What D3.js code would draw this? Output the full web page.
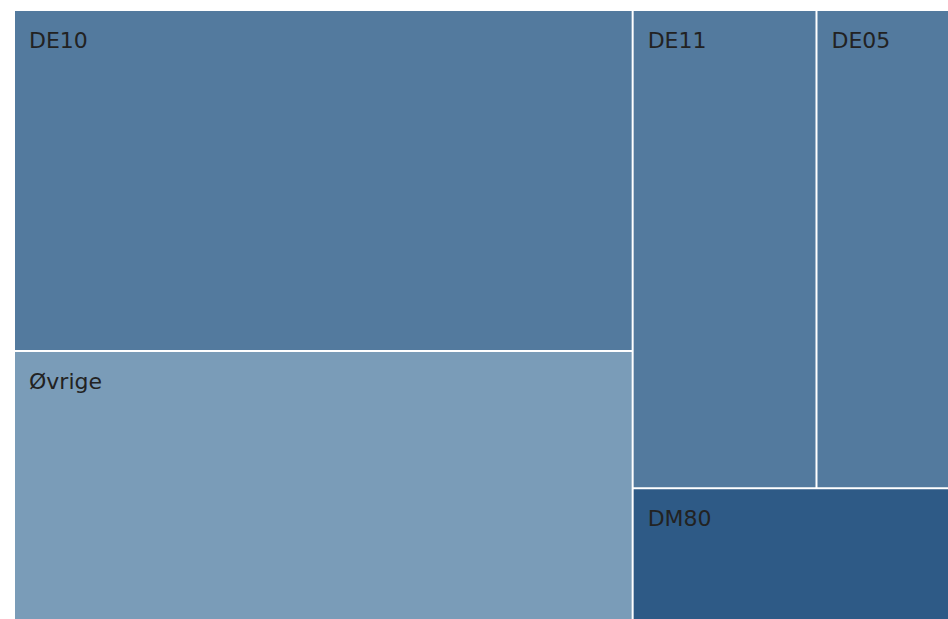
<!DOCTYPE html>
<html>
<head>
<meta charset="utf-8">
<script src="https://cdn.jsdelivr.net/npm/d3@7"></script>
<style>
  html, body { margin: 0; padding: 0; background: #ffffff; }
  svg { display: block; }
</style>
</head>
<body>
<svg id="chart" width="948" height="619"></svg>
<script>
// Share of total (%) per code
const categories = ["DE10", "Øvrige", "DE11", "DE05", "DM80"];
const values     = [36.95, 29.15, 15.4, 11.1, 7.3];
// Which block each tile belongs to in the nested layout
const parents    = ["left", "left", "rightTop", "rightTop", "right"];
// Block structure: id -> parent
const blockIds     = ["root", "left", "right", "rightTop"];
const blockParents = ["", "root", "root", "right"];
const colors     = ["#537a9e", "#7a9cb8", "#537a9e", "#537a9e", "#2e5a86"];

const width = 948, height = 619;
const margin = { top: 11, left: 15 };

const rows = blockIds.map((id, i) => ({ id, parent: blockParents[i] || null }))
  .concat(categories.map((c, i) => ({ id: c, parent: parents[i], value: values[i], color: colors[i] })));

const root = d3.stratify().id(d => d.id).parentId(d => d.parent)(rows)
  .sum(d => d.value || 0);

d3.treemap()
  .tile(d3.treemapSliceDice)
  .size([width - margin.left, height - margin.top])
  .paddingInner(2)
  .round(false)(root);

const svg = d3.select("#chart");
const g = svg.append("g").attr("transform", `translate(${margin.left},${margin.top})`);

const leaf = g.selectAll("g.leaf")
  .data(root.leaves())
  .join("g")
  .attr("class", "leaf")
  .attr("transform", d => `translate(${d.x0},${d.y0})`);

leaf.append("rect")
  .attr("width", d => d.x1 - d.x0)
  .attr("height", d => d.y1 - d.y0)
  .attr("fill", d => d.data.color);

leaf.append("text")
  .attr("x", 14)
  .attr("y", 37)
  .attr("font-family", "DejaVu Sans, Verdana, sans-serif")
  .attr("font-size", 22)
  .attr("fill", "#222222")
  .text(d => d.data.id);
</script>
</body>
</html>
